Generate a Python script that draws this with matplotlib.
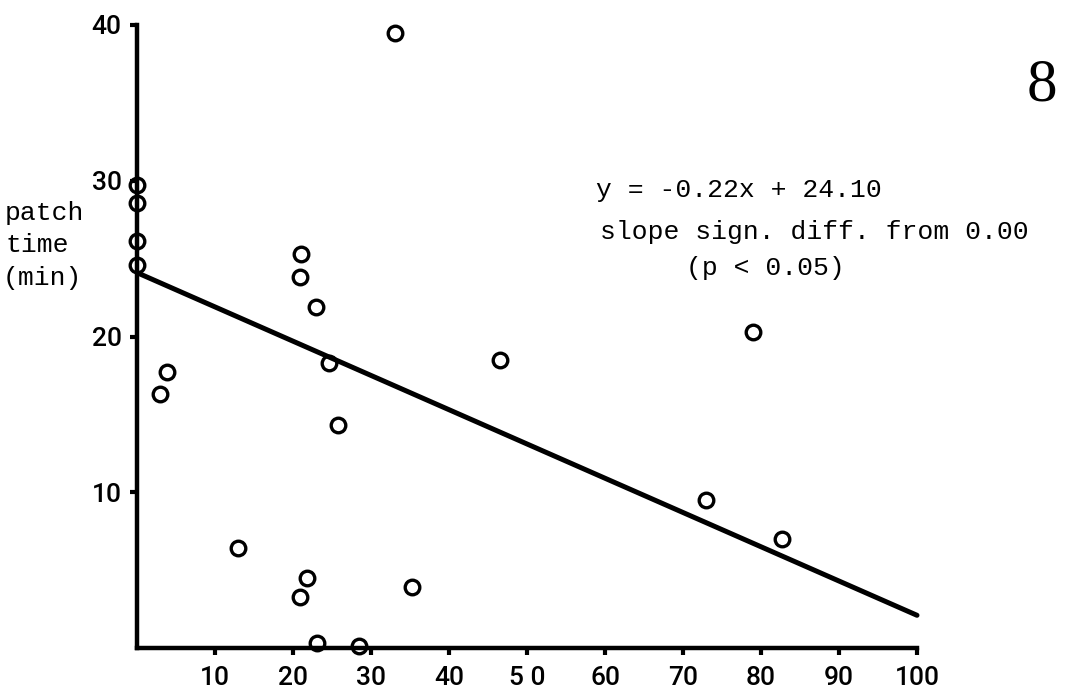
import numpy as np
import matplotlib
matplotlib.use("Agg")
import matplotlib.pyplot as plt

# points (x, patch time in min)
x_vals = [0.0, 0.0, 0.0, 0.0, 3.0, 3.9, 12.9, 20.9, 21.0, 20.9, 21.8, 23.0,
          23.1, 24.6, 25.8, 28.5, 33.1, 35.2, 46.5, 73.0, 79.0, 82.7]
y_vals = [29.7, 28.6, 26.1, 24.6, 16.3, 17.7, 6.4, 23.8, 25.3, 3.3, 4.5, 21.9,
          0.3, 18.3, 14.3, 0.1, 39.5, 3.9, 18.5, 9.5, 20.3, 7.0]

slope = -0.22
intercept = 24.10
x_ticks = [10, 20, 30, 40, 50, 60, 70, 80, 90, 100]
x_tick_labels = ["10", "20", "30", "40", "5 0", "60", "70", "80", "90", "100"]
y_ticks = [10, 20, 30, 40]

fig = plt.figure(figsize=(10.69, 6.95), dpi=100)
ax = fig.add_axes([137 / 1069, 47 / 695, 780 / 1069, 623 / 695])

ax.set_xlim(0, 100)
ax.set_ylim(0, 40)

ax.plot(x_vals, y_vals, linestyle="none", marker="o", markersize=10.5,
        markerfacecolor="none", markeredgecolor="black", markeredgewidth=2.4,
        clip_on=False, zorder=3)

line_x = np.array([0, 100])
ax.plot(line_x, slope * line_x + intercept, color="black", linewidth=3.6,
        solid_capstyle="round", clip_on=False)

for side in ["top", "right"]:
    ax.spines[side].set_visible(False)
for side in ["left", "bottom"]:
    ax.spines[side].set_linewidth(3.2)

ax.set_xticks(x_ticks)
ax.set_xticklabels(x_tick_labels)
ax.set_yticks(y_ticks)
ax.tick_params(axis="both", direction="out", length=5, width=3, labelsize=19)
ax.tick_params(axis="x", pad=8)
ax.tick_params(axis="y", pad=6)
for lab in ax.get_xticklabels() + ax.get_yticklabels():
    lab.set_family("Roboto")
    lab.set_fontweight("medium")

mono = "Liberation Mono"
fig.text(5 / 1069, 1 - 213 / 695, "patch", fontsize=19, family=mono,
         va="center", ha="left")
fig.text(5 / 1069, 1 - 245 / 695, "time", fontsize=19, family=mono,
         va="center", ha="left")
fig.text(3 / 1069, 1 - 278 / 695, "(min)", fontsize=19, family=mono,
         va="center", ha="left")

fig.text(596 / 1069, 1 - 190 / 695, "y = -0.22x + 24.10", fontsize=19,
         family=mono, va="center", ha="left")
fig.text(600 / 1069, 1 - 232 / 695, "slope sign. diff. from 0.00", fontsize=19,
         family=mono, va="center", ha="left")
fig.text(765 / 1069, 1 - 268 / 695, "(p < 0.05)", fontsize=19,
         family=mono, va="center", ha="center")

fig.text(1042 / 1069, 1 - 86 / 695, "8", fontsize=44, family="Liberation Serif",
         va="center", ha="center")

fig.savefig("out.png", dpi=100)
